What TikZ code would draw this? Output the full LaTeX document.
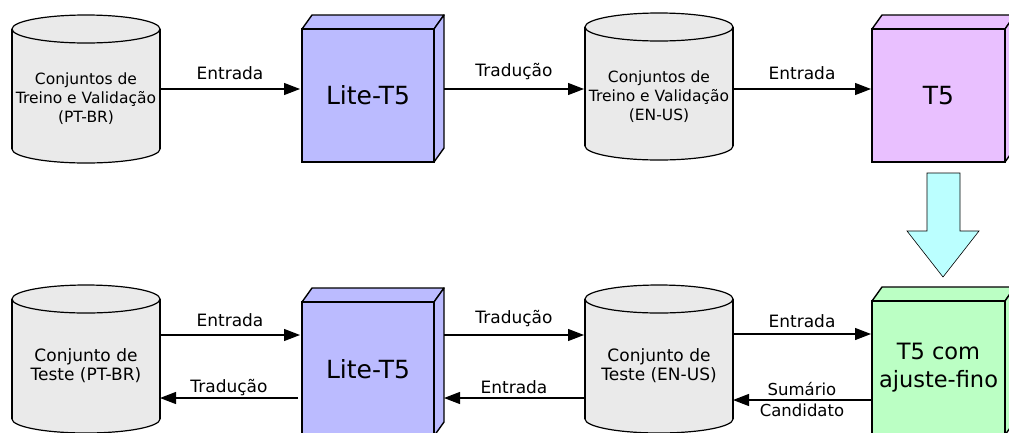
\documentclass[tikz,border=0pt]{standalone}
\usepackage{fontspec}
\setmainfont{DejaVu Sans}
\usetikzlibrary{arrows.meta}
\definecolor{cylfill}{HTML}{EAEAEA}
\definecolor{litefill}{HTML}{BBBBFF}
\definecolor{tfivefill}{HTML}{E9C0FF}
\definecolor{ftfill}{HTML}{BBFFC4}
\definecolor{bigarrow}{HTML}{BBFFFF}
\newcommand{\mycyl}[7]{% name, left, right, top, bottom, text offset, text
  \pgfmathsetmacro{\cx}{(#2+#3)/2}
  \pgfmathsetmacro{\rx}{(#3-#2)/2}
  \pgfmathsetmacro{\ta}{#4+14}
  \pgfmathsetmacro{\ba}{#5-14}
  \pgfmathsetmacro{\cy}{(#4+#5)/2+#6}
  \draw[cylline,fill=cylfill] (\cx,\ba) ellipse[x radius=\rx, y radius=14];
  \fill[cylfill] (#2,\ta) rectangle (#3,\ba);
  \draw[cylline] (#2,\ta) -- (#2,\ba) (#3,\ta) -- (#3,\ba);
  \draw[cylline,fill=cylfill] (\cx,\ta) ellipse[x radius=\rx, y radius=14];
  \node[cyltext, minimum width=#3-#2] (#1) at (\cx,\cy) {#7};
}
\newcommand{\mycube}[7]{% name, left, right, top, bottom, fill, text
  \draw[cubeline,fill=#6] (#2,#4) -- ++(10,-14) -- (#3+10,#4-14) -- (#3,#4) -- cycle;
  \draw[cubeline,fill=#6] (#3,#4) -- ++(10,-14) -- (#3+10,#5-14) -- (#3,#5) -- cycle;
  \node[cubebox, fill=#6, minimum width=#3-#2, minimum height=#5-#4] (#1) at ({(#2+#3)/2},{(#4+#5)/2}) {#7};
}
\tikzset{
  cylline/.style={line width=1.2pt},
  cubeline/.style={line width=1.4pt, line join=round},
  cyltext/.style={align=center, inner sep=0pt, font=\fontsize{15.5}{19}\selectfont},
  cubebox/.style={draw, line width=1.4pt, inner sep=0pt, align=center, font=\fontsize{25}{28}\selectfont},
  conn/.style={line width=1.2pt, -{Triangle[length=16pt,width=12pt]}},
  lbl/.style={font=\fontsize{17}{20}\selectfont, inner sep=0pt, align=center},
}
\begin{document}
\begin{tikzpicture}[x=1pt,y=-1pt]
\useasboundingbox (0,0) rectangle (1009,432);
% top row
\mycyl{cA}{12}{160}{15}{163}{10}{Conjuntos de\\Treino e Validação\\(PT-BR)}
\mycube{lA}{302}{434}{29}{162}{litefill}{Lite-T5}
\mycyl{cB}{585}{733}{13}{160}{10}{Conjuntos de\\Treino e Validação\\(EN-US)}
\mycube{tA}{872}{1005}{29}{162}{tfivefill}{T5}
% bottom row
\mycyl{cC}{12}{160}{285}{433}{7}{\fontsize{17}{21}\selectfont Conjunto de\\\fontsize{17}{21}\selectfont Teste (PT-BR)}
\mycube{lB}{302}{434}{302}{436}{litefill}{Lite-T5}
\mycyl{cD}{585}{733}{285}{433}{7}{\fontsize{17}{21}\selectfont Conjunto de\\\fontsize{17}{21}\selectfont Teste (EN-US)}
\mycube{tB}{872}{1005}{301}{435}{ftfill}{\fontsize{22.5}{27}\selectfont T5 com\\\fontsize{22.5}{27}\selectfont ajuste-fino}
% top connectors
\coordinate (a1) at (160,89); \coordinate (a2) at (300,89);
\draw[conn] (a1) -- node[lbl, above=9pt] {Entrada} (a2);
\coordinate (b1) at (444,89); \coordinate (b2) at (584,89);
\draw[conn] (b1) -- node[lbl, above=9pt] {Tradução} (b2);
\coordinate (c1) at (733,89); \coordinate (c2) at (871,89);
\draw[conn] (c1) -- node[lbl, above=9pt] {Entrada} (c2);
% big arrow
\draw[line width=0.6pt, fill=bigarrow] (927,173) -- (960,173) -- (960,231) -- (979,231) -- (943,277) -- (907,231) -- (927,231) -- cycle;
% bottom connectors
\coordinate (d1) at (160,335); \coordinate (d2) at (300,335);
\draw[conn] (d1) -- node[lbl, above=8pt] {Entrada} (d2);
\coordinate (e1) at (298,398); \coordinate (e2) at (160,398);
\draw[conn] (e1) -- node[lbl, above=2pt] {Tradução} (e2);
\coordinate (f1) at (444,335); \coordinate (f2) at (584,335);
\draw[conn] (f1) -- node[lbl, above=8pt] {Tradução} (f2);
\coordinate (g1) at (584,398); \coordinate (g2) at (444,398);
\draw[conn] (g1) -- node[lbl, above=4pt] {Entrada} (g2);
\coordinate (h1) at (733,334); \coordinate (h2) at (871,334);
\draw[conn] (h1) -- node[lbl, above=6pt] {Entrada} (h2);
\coordinate (i1) at (871,400); \coordinate (i2) at (733,400);
\draw[conn] (i1) -- node[lbl, font=\fontsize{16.5}{21}\selectfont] {Sumário\\Candidato} (i2);
\end{tikzpicture}
\end{document}
